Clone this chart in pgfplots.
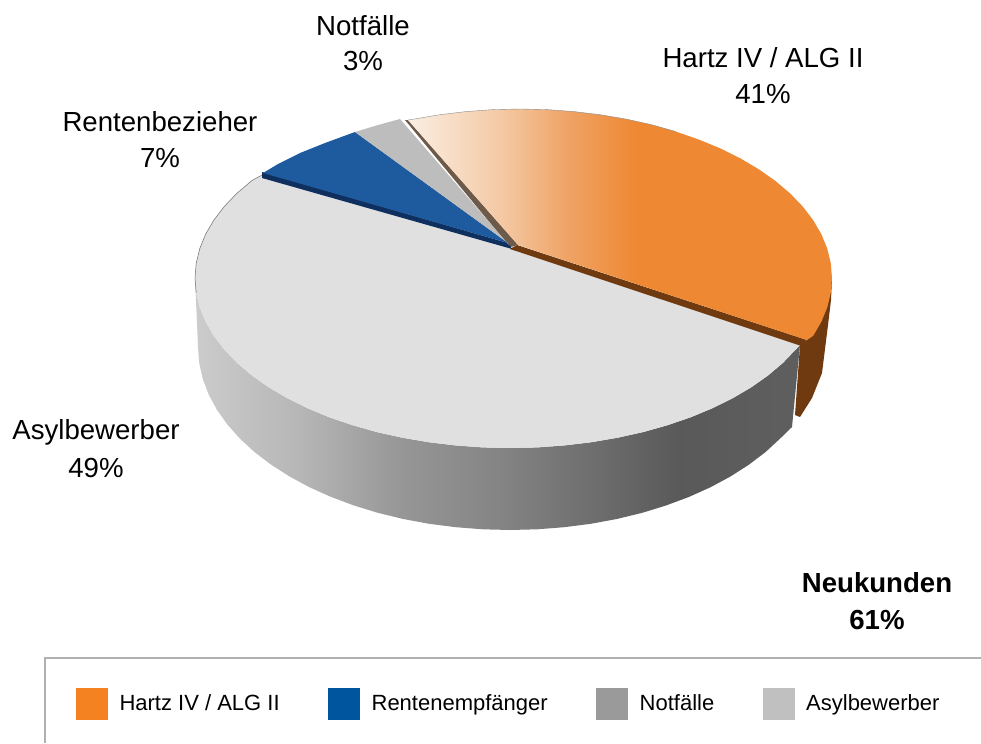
\documentclass[border=0pt]{standalone}
\usepackage{fontspec}
\setmainfont{Liberation Sans}
\usepackage{pgfplots}
\pgfplotsset{compat=1.18}
\definecolor{cHartz}{HTML}{F48221}
\definecolor{cRente}{HTML}{00559F}
\definecolor{cNot}{HTML}{9A9A9A}
\definecolor{cAsyl}{HTML}{C0C0C0}
\definecolor{topAsyl}{HTML}{E0E0E0}
\definecolor{topBlue}{HTML}{1D5A9E}
\definecolor{topGrey}{HTML}{BDBDBD}
\definecolor{brownW}{HTML}{703A10}
\definecolor{brownE}{HTML}{6E5A48}
\definecolor{blueE}{HTML}{0F2F5F}
\definecolor{frameC}{HTML}{B0B0B0}
\newcommand{\lf}{\fontsize{20.7pt}{27pt}\selectfont}
\pgfdeclarehorizontalshading{wallshade}{100bp}{
 color(0bp)=(white!80!black);
 color(25bp)=(white!80!black);
 color(34bp)=(white!71!black);
 color(42bp)=(white!59!black);
 color(50bp)=(white!52!black);
 color(58bp)=(white!43!black);
 color(65bp)=(white!35!black);
 color(74bp)=(white!37!black);
 color(100bp)=(white!37!black)}
\definecolor{o1}{HTML}{FAEEE3}
\definecolor{o2}{HTML}{F4C9A4}
\definecolor{o3}{HTML}{EFA264}
\definecolor{o4}{HTML}{EE8832}
\pgfdeclarehorizontalshading{orangeshade}{100bp}{
 color(0bp)=(o1);
 color(25bp)=(o1);
 color(36bp)=(o2);
 color(44bp)=(o3);
 color(52bp)=(o4);
 color(75bp)=(o4);
 color(100bp)=(o4)}
\begin{document}
\begin{tikzpicture}
\begin{axis}[
  scale only axis, width=735.75pt, height=557.25pt,
  xmin=0, xmax=981, ymin=0, ymax=743, y dir=reverse,
  axis lines=none, clip=true,
  legend columns=4,
  legend style={at={(axis cs:76,703.5)}, anchor=west, draw=none, fill=none,
    inner sep=0pt, outer sep=0pt, font=\fontsize{16.5pt}{19pt}\selectfont,
    /tikz/every even column/.append style={column sep=34.3pt},
    /tikz/every odd column/.append style={column sep=7pt}},
  legend cell align=left,
]
% side wall of the large slice
\addplot[forget plot, shade, shading=wallshade, draw=none] coordinates {
(195,278)(196.2,292.8)(199.8,307.5)(205.7,322)(214,336.1)(224.5,349.8)(237.2,363)(252,375.5)(268.7,387.3)(287.3,398.2)(307.5,408.2)(329.3,417.3)(352.5,425.2)(376.9,432.1)(402.3,437.7)(428.5,442.2)(455.3,445.4)(482.5,447.4)(510,448)(537.5,447.4)(564.7,445.4)(591.5,442.2)(617.7,437.7)(643.1,432.1)(667.5,425.2)(690.7,417.3)(712.5,408.2)(732.7,398.2)(751.3,387.3)(768,375.5)(782.8,363)(795.5,349.8)(800,345)
(792,427)(780.2,438.5)(765.6,452)(749,464.6)(730.6,476.4)(710.6,487.2)(689,496.9)(666,505.5)(641.9,512.9)(616.7,519)(590.8,523.8)(564.2,527.2)(537.2,529.3)(510,530)(482.8,529.3)(455.8,527.2)(429.2,523.8)(403.3,519)(378.1,512.9)(354,505.5)(331,496.9)(309.4,487.2)(289.4,476.4)(271,464.6)(254.4,452)(239.8,438.5)(227.2,424.3)(216.8,409.6)(208.6,394.4)(202.7,378.8)(199.2,363)(198,347)(195,278)};
% side wall of the orange slice
\addplot[forget plot, fill=brownW, draw=none] coordinates {
(832,278)(831,300)(828,325)(822,373)(812,398)(800,417)(795,415)(800,345)(807,340)(832,278)};
% top of the large slice
\addplot[forget plot, fill=topAsyl, draw=none] coordinates {
(513,246)(800,345)(795.5,349.8)(782.8,363)(768,375.5)(751.3,387.3)(732.7,398.2)(712.5,408.2)(690.7,417.3)(667.5,425.2)(643.1,432.1)(617.7,437.7)(591.5,442.2)(564.7,445.4)(537.5,447.4)(510,448)(482.5,447.4)(455.3,445.4)(428.5,442.2)(402.3,437.7)(376.9,432.1)(352.5,425.2)(329.3,417.3)(307.5,408.2)(287.3,398.2)(268.7,387.3)(252,375.5)(237.2,363)(224.5,349.8)(214,336.1)(205.7,322)(199.8,307.5)(196.2,292.8)(195,278)(196.2,263.2)(199.8,248.5)(205.7,234)(214,219.9)(224.5,206.2)(237.2,193)(252,180.5)(262,175)(513,246)};
\addplot[forget plot, draw=black!55, line width=0.4pt] coordinates {
(262,175)(252,180.5)(237.2,193)(224.5,206.2)(214,219.9)(205.7,234)(199.8,248.5)(196.2,263.2)(195,278)(196.2,292.8)};
% dark edges
\addplot[forget plot, fill=brownW, draw=none] coordinates {(517,245)(807,340)(800,345.5)(510,249)(517,245)};
\addplot[forget plot, fill=brownE, draw=none] coordinates {(405,120)(408,120)(518,245)(510,247)(405,120)};
% top of the orange slice
\addplot[forget plot, shade, shading=orangeshade, draw=none] coordinates {
(518,245)(408,120)(413.3,119.2)(439.2,114.8)(465.8,111.6)(492.8,109.6)(520,109)(547.2,109.6)(574.2,111.6)(600.8,114.8)(626.7,119.2)(651.9,124.8)(676,131.6)(699,139.6)(720.6,148.5)(740.6,158.5)(759,169.4)(775.6,181.1)(790.2,193.5)(802.8,206.6)(813.2,220.2)(821.4,234.3)(827.3,248.7)(830.8,263.3)(832,278)(830.8,292.7)(827.3,307.3)(821.4,321.7)(813.2,335.8)(807,340)(518,245)};
\addplot[forget plot, draw=black!45, line width=0.3pt] coordinates {
(408,120)(413.3,119.2)(439.2,114.8)(465.8,111.6)(492.8,109.6)(520,109)(547.2,109.6)(574.2,111.6)(600.8,114.8)(626.7,119.2)(651.9,124.8)(676,131.6)};
% blue slice
\addplot[forget plot, fill=blueE, draw=none] coordinates {(262,172)(508,243)(512,249)(262,178)(262,172)};
\addplot[forget plot, fill=topBlue, draw=none] coordinates {
(508,243)(263,173)(278,164)(300,153)(325,143)(355,132)(508,243)};
% grey slice
\addplot[forget plot, fill=topGrey, draw=none] coordinates {
(508,243)(355,132)(378,125)(400,119)(509,245)(508,243)};
% legend frame
\addplot[forget plot, draw=frameC, line width=1.1pt] coordinates {(45,743)(45,658)(981,658)};
% legend
\addlegendimage{legend image code/.code={\fill[cHartz] (0pt,-11.6pt) rectangle (23.25pt,11.6pt);}}
\addlegendentry{Hartz IV / ALG II}
\addlegendimage{legend image code/.code={\fill[cRente] (0pt,-11.6pt) rectangle (23.25pt,11.6pt);}}
\addlegendentry{Rentenempfänger}
\addlegendimage{legend image code/.code={\fill[cNot] (0pt,-11.6pt) rectangle (23.25pt,11.6pt);}}
\addlegendentry{Notfälle}
\addlegendimage{legend image code/.code={\fill[cAsyl] (0pt,-11.6pt) rectangle (23.25pt,11.6pt);}}
\addlegendentry{Asylbewerber}
% labels
\node[font=\lf] at (axis cs:363,26) {Notfälle};
\node[font=\lf] at (axis cs:363,61) {3\%};
\node[font=\lf] at (axis cs:763,58) {Hartz IV / ALG II};
\node[font=\lf] at (axis cs:763,94) {41\%};
\node[font=\lf] at (axis cs:160,122) {Rentenbezieher};
\node[font=\lf] at (axis cs:160,158) {7\%};
\node[font=\lf] at (axis cs:96,432) {Asylbewerber};
\node[font=\lf] at (axis cs:96,468) {49\%};
\node[font=\lf\bfseries] at (axis cs:877,583) {Neukunden};
\node[font=\lf\bfseries] at (axis cs:877,620) {61\%};
\end{axis}
\path[use as bounding box] (0pt,0pt) rectangle (735.75pt,557.25pt);
\end{tikzpicture}
\end{document}
